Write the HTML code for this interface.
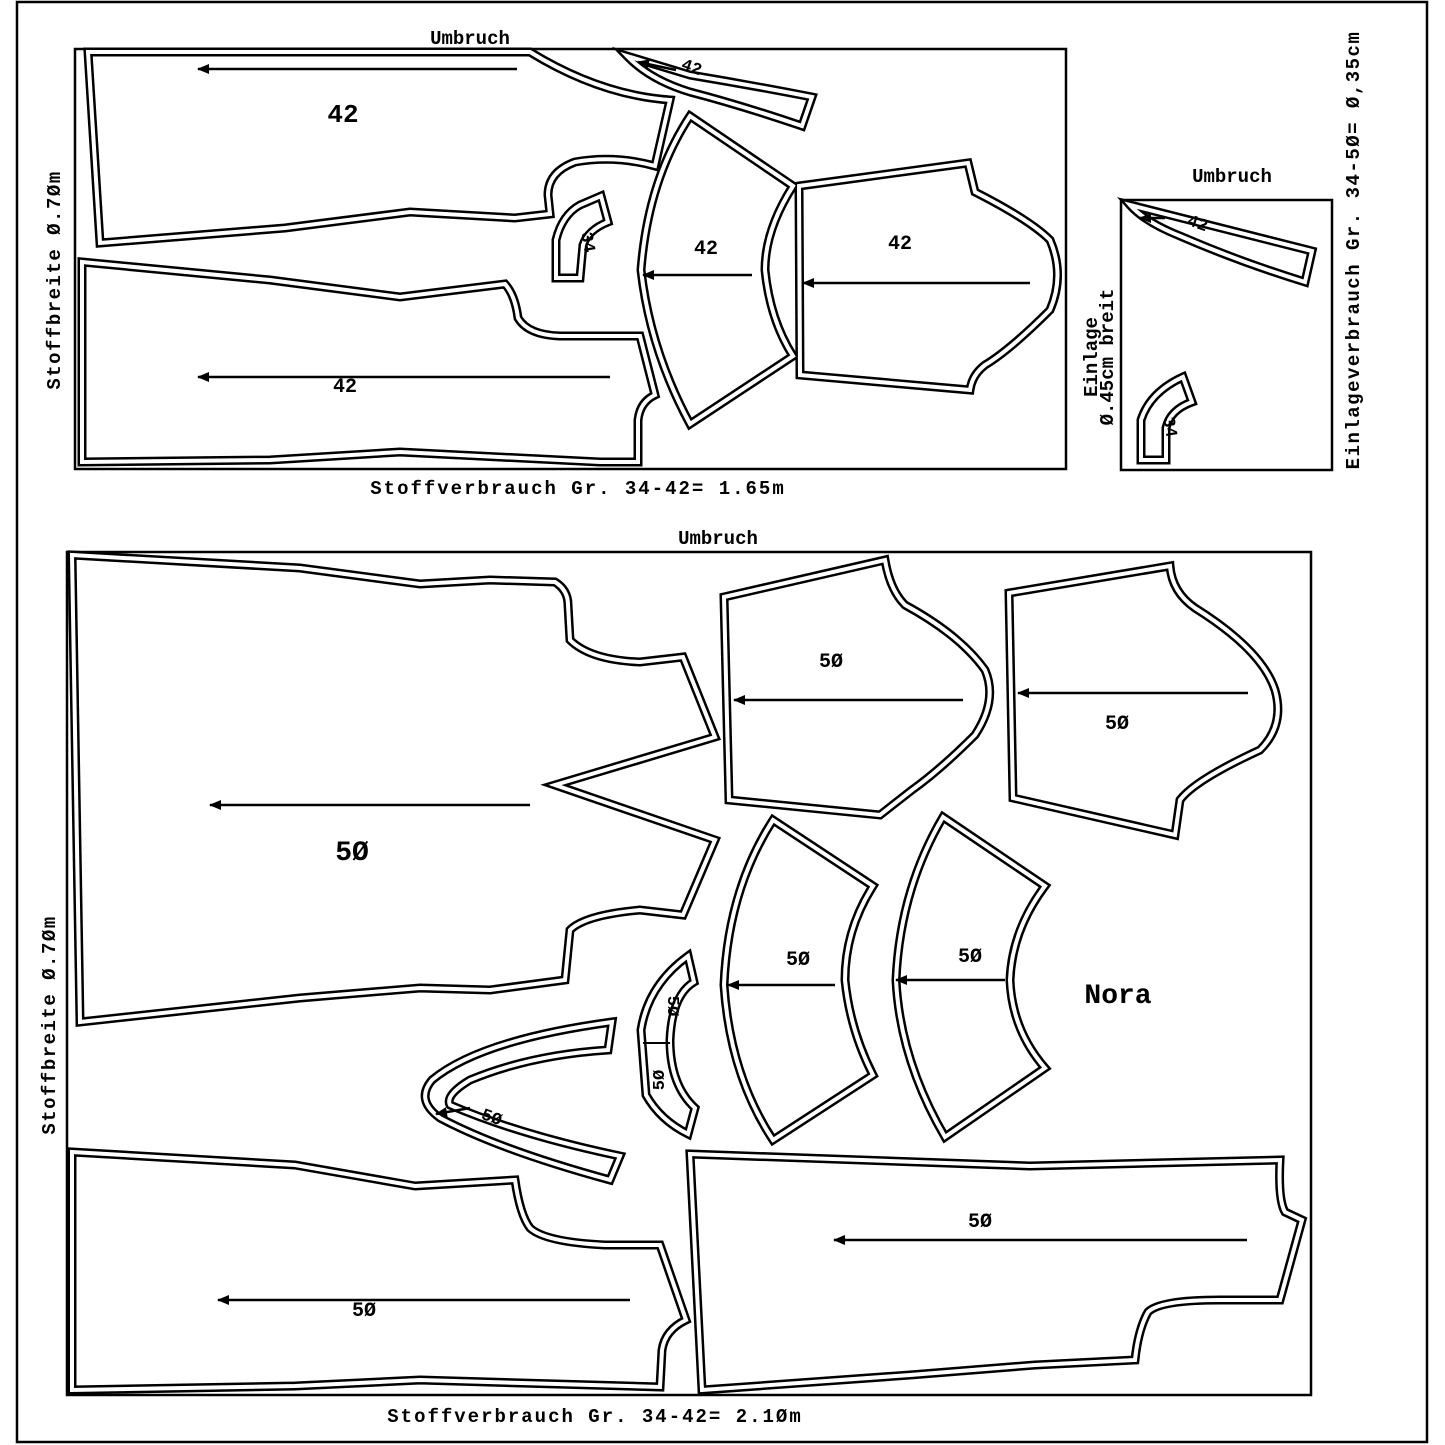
<!DOCTYPE html>
<html><head><meta charset="utf-8"><style>
html,body{margin:0;padding:0;background:#fff}
svg{display:block}
text{font-family:"Liberation Mono","DejaVu Sans Mono",monospace;font-weight:bold;fill:#000}
.o{fill:none;stroke:#000;stroke-width:9;stroke-linejoin:miter}
.i{fill:none;stroke:#fff;stroke-width:4;stroke-linejoin:miter}
.a{stroke:#000;stroke-width:2.5}
</style></head><body>
<svg width="1445" height="1445" viewBox="0 0 1445 1445" xmlns="http://www.w3.org/2000/svg">
<defs>
<marker id="ah" markerWidth="12" markerHeight="10" refX="11" refY="5" orient="auto" markerUnits="userSpaceOnUse"><path d="M0,0 L12,5 L0,10 z" fill="#000"/></marker>
<path id="p1" d="M88,52 L530,52 Q600,95 670,100 L655,166 Q615,155 575,162 Q548,172 548,195 L550,214 L515,218 L410,212 L285,228 L100,243 Z"/>
<path id="p2" d="M82,262 L270,280 L400,297 L505,284 Q515,295 518,318 Q528,335 560,336 L640,336 L655,395 Q640,402 638,420 L638,462 L600,462 L400,452 L270,460 L82,462 Z"/>
<path id="p3" d="M627,56 L690,75 Q750,85 812,97 L802,126 Q740,105 690,92 Q650,80 627,56 Z"/>
<path id="p4" d="M556,278 L556,240 Q562,215 580,205 L601,196 L608,222 Q588,230 583,245 L580,278 Z"/>
<path id="p5" d="M690,116 L793,186 Q765,230 765,270 Q770,320 793,356 L690,424 Q650,350 641,270 Q648,180 690,116 Z"/>
<path id="p6" d="M799,186 L968,163 L975,192 Q1030,220 1050,240 Q1065,275 1050,310 Q1010,350 985,365 Q972,375 970,390 L800,375 Z"/>
<path id="p7" d="M1130,205 L1312,251 L1305,282 Q1240,262 1180,236 Q1145,222 1130,205 Z"/>
<path id="p8" d="M1141,460 L1141,420 Q1150,392 1183,377 L1192,402 Q1170,410 1166,428 L1166,460 Z"/>
<path id="q1" d="M72,555 L300,568 L420,584 L490,580 L555,582 Q568,590 568,605 L570,640 Q590,660 640,662 L683,657 L715,737 L555,785 L715,840 L683,915 L640,910 Q585,915 570,930 L565,980 L490,990 L420,988 L300,998 L80,1022 Z"/>
<path id="q2" d="M724,597 L885,560 Q890,590 905,605 Q960,635 985,670 Q998,700 975,735 Q940,770 912,790 L880,815 L729,800 Z"/>
<path id="q3" d="M1009,593 L1170,566 Q1172,592 1195,608 Q1262,650 1275,690 Q1285,725 1260,750 Q1195,780 1180,800 L1175,835 L1013,798 Z"/>
<path id="q4" d="M773,820 L873,886 Q845,930 845,980 Q850,1030 873,1075 L773,1140 Q730,1075 724,985 Q728,890 773,820 Z"/>
<path id="q5" d="M943,817 L1045,886 Q1012,930 1010,980 Q1012,1030 1045,1068 L945,1137 Q900,1060 896,980 Q900,890 943,817 Z"/>
<path id="q6" d="M646,1095 L641,1030 Q648,985 688,956 L694,982 Q672,995 670,1040 Q670,1085 695,1108 L688,1134 Q660,1120 646,1095 Z"/>
<path id="q7" d="M612,1022 L608,1050 Q530,1055 470,1080 Q445,1095 450,1105 Q520,1135 620,1156 L610,1180 Q500,1150 440,1118 Q415,1100 432,1080 Q480,1040 612,1022 Z"/>
<path id="q8" d="M72,1152 L295,1165 L415,1186 L515,1180 Q520,1215 530,1228 Q545,1242 605,1245 L660,1245 L686,1320 Q665,1330 662,1350 L660,1387 L420,1380 L295,1386 L72,1390 Z"/>
<path id="q9" d="M690,1154 L1030,1166 L1280,1160 Q1278,1200 1285,1212 L1302,1220 L1280,1300 L1220,1300 Q1160,1300 1148,1312 Q1138,1330 1135,1360 L1035,1365 L910,1375 L702,1390 Z"/>
</defs>
<rect x="17" y="2" width="1410" height="1440" fill="none" stroke="#000" stroke-width="2.5"/>
<rect x="75" y="49" width="991" height="420" fill="none" stroke="#000" stroke-width="2.5"/>
<rect x="1121" y="200" width="211" height="270" fill="none" stroke="#000" stroke-width="2.5"/>
<rect x="67" y="552" width="1244" height="843" fill="none" stroke="#000" stroke-width="2.5"/>
<g class="o"><use href="#p1"/><use href="#p2"/><use href="#p3"/><use href="#p4"/><use href="#p5"/><use href="#p6"/><use href="#p7"/><use href="#p8"/><use href="#q1"/><use href="#q2"/><use href="#q3"/><use href="#q4"/><use href="#q5"/><use href="#q6"/><use href="#q7"/><use href="#q8"/><use href="#q9"/></g>
<g class="i"><use href="#p1"/><use href="#p2"/><use href="#p3"/><use href="#p4"/><use href="#p5"/><use href="#p6"/><use href="#p7"/><use href="#p8"/><use href="#q1"/><use href="#q2"/><use href="#q3"/><use href="#q4"/><use href="#q5"/><use href="#q6"/><use href="#q7"/><use href="#q8"/><use href="#q9"/></g>
<g class="a" marker-end="url(#ah)">
<line x1="517" y1="69" x2="198" y2="69"/>
<line x1="610" y1="377" x2="198" y2="377"/>
<line x1="752" y1="275" x2="643" y2="275"/>
<line x1="1030" y1="283" x2="803" y2="283"/>
<line x1="676" y1="70" x2="638" y2="62"/>
<line x1="1165" y1="218" x2="1140" y2="218"/>
<line x1="530" y1="805" x2="210" y2="805"/>
<line x1="963" y1="700" x2="734" y2="700"/>
<line x1="1248" y1="693" x2="1018" y2="693"/>
<line x1="835" y1="985" x2="728" y2="985"/>
<line x1="1005" y1="980" x2="896" y2="980"/>
<line x1="470" y1="1108" x2="436" y2="1114"/>
<line x1="630" y1="1300" x2="218" y2="1300"/>
<line x1="1247" y1="1240" x2="834" y2="1240"/>
</g>
<line x1="643" y1="1043" x2="670" y2="1043" stroke="#000" stroke-width="2"/>
<g font-size="20">
<text x="470" y="44" text-anchor="middle" font-size="19">Umbruch</text>
<text x="1232" y="182" text-anchor="middle" font-size="19">Umbruch</text>
<text x="718" y="544" text-anchor="middle" font-size="19">Umbruch</text>
<text x="578" y="494" text-anchor="middle" font-size="19" letter-spacing="2">Stoffverbrauch Gr. 34-42= 1.65m</text>
<text x="595" y="1422" text-anchor="middle" font-size="19" letter-spacing="2">Stoffverbrauch Gr. 34-42= 2.1Øm</text>
<text transform="translate(60,280) rotate(-90)" text-anchor="middle" font-size="19" letter-spacing="1.5">Stoffbreite Ø.7Øm</text>
<text transform="translate(55,1025) rotate(-90)" text-anchor="middle" font-size="19" letter-spacing="1.5">Stoffbreite Ø.7Øm</text>
<text transform="translate(1359,250) rotate(-90)" text-anchor="middle" font-size="19" letter-spacing="1.5">Einlageverbrauch Gr.  34-5Ø= Ø,35cm</text>
<text transform="translate(1097,357) rotate(-90)" text-anchor="middle" font-size="19">Einlage</text>
<text transform="translate(1113,357) rotate(-90)" text-anchor="middle" font-size="19">Ø.45cm breit</text>
<text x="343" y="122" text-anchor="middle" font-size="26" font-weight="normal">42</text>
<text x="345" y="392" text-anchor="middle">42</text>
<text x="706" y="254" text-anchor="middle">42</text>
<text x="900" y="249" text-anchor="middle">42</text>
<text transform="translate(690,72) rotate(20)" text-anchor="middle" font-size="17">42</text>
<text transform="translate(1196,228) rotate(20)" text-anchor="middle" font-size="17">42</text>
<text transform="translate(583,243) rotate(80)" text-anchor="middle" font-size="17">34</text>
<text transform="translate(1165,428) rotate(80)" text-anchor="middle" font-size="17">34</text>
<text x="352" y="860" text-anchor="middle" font-size="28" font-weight="normal">5Ø</text>
<text x="831" y="667" text-anchor="middle">5Ø</text>
<text x="1117" y="729" text-anchor="middle">5Ø</text>
<text x="798" y="965" text-anchor="middle">5Ø</text>
<text x="970" y="962" text-anchor="middle">5Ø</text>
<text x="980" y="1227" text-anchor="middle">5Ø</text>
<text x="364" y="1316" text-anchor="middle">5Ø</text>
<text transform="translate(490,1122) rotate(20)" text-anchor="middle" font-size="17">5Ø</text>
<text transform="translate(664,1080) rotate(-90)" text-anchor="middle" font-size="17">5Ø</text>
<text transform="translate(668,1006) rotate(90)" text-anchor="middle" font-size="17">5Ø</text>
<text x="1118" y="1003" text-anchor="middle" font-family="Liberation Sans, sans-serif" font-weight="normal" font-size="28">Nora</text>
</g>
</svg>
</body></html>
